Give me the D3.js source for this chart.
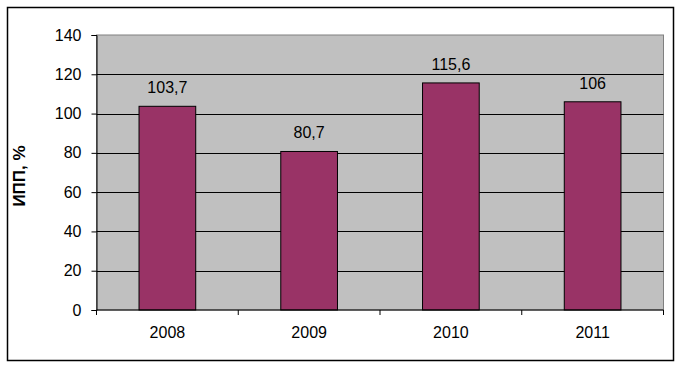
<!DOCTYPE html>
<html><head><meta charset="utf-8">
<script src="https://cdn.jsdelivr.net/npm/d3@7"></script>
<style>body{margin:0;background:#fff}svg{display:block}text{font-family:"Liberation Sans",Arial,sans-serif}</style>
</head><body><svg id="c" width="682" height="368"></svg>
<script>
const categories = ["2008","2009","2010","2011"];
const values = [103.7, 80.7, 115.6, 106];
const valueLabels = ["103,7","80,7","115,6","106"];
const yTicks = [0,20,40,60,80,100,120,140];
const yTitle = "ИПП, %";

const svg = d3.select("#c");
svg.append("rect").attr("x",7.5).attr("y",7.5).attr("width",666).attr("height",353)
  .attr("fill","#fff").attr("stroke","#000").attr("stroke-width",1.5);

const L=96.5, R=663.5, T=35, B=310;
const x = d3.scaleBand().domain(categories).range([L,R]).paddingInner(0.6).paddingOuter(0.3);
const xb = d3.scaleBand().domain(categories).range([L,R]);
const y = d3.scaleLinear().domain([0,140]).range([B,T]);

svg.append("rect").attr("x",L).attr("y",T).attr("width",R-L).attr("height",B-T)
  .attr("fill","#c0c0c0").attr("stroke","#808080").attr("stroke-width",1);

svg.append("g").selectAll("line").data(yTicks.filter(d=>d>0 && d<140)).join("line")
  .attr("x1",L).attr("x2",R).attr("y1",d=>Math.round(y(d))+0.5).attr("y2",d=>Math.round(y(d))+0.5)
  .attr("stroke","#000").attr("stroke-width",1);

svg.append("g").selectAll("rect").data(values).join("rect")
  .attr("x",(d,i)=>x(categories[i])).attr("width",x.bandwidth())
  .attr("y",d=>y(d)).attr("height",d=>B-y(d))
  .attr("fill","#993366").attr("stroke","#000").attr("stroke-width",1);

svg.append("g").selectAll("text").data(values).join("text")
  .attr("x",(d,i)=>x(categories[i])+x.bandwidth()/2).attr("y",d=>y(d)-13)
  .attr("text-anchor","middle").attr("font-size",16).attr("fill","#000")
  .text((d,i)=>valueLabels[i]);

const yAxis = d3.axisLeft(y).tickValues(yTicks).tickSize(5).tickPadding(10).tickFormat(d3.format("d"));
const gy = svg.append("g").attr("transform",`translate(${L},0)`).call(yAxis);
gy.select(".domain").attr("stroke","#000");
gy.selectAll("text").attr("font-size",16).attr("fill","#000").style("font-family",'"Liberation Sans",Arial,sans-serif');

const gx = svg.append("g").attr("transform",`translate(0,${B})`);
gx.append("line").attr("x1",L).attr("x2",R).attr("stroke","#000");
const bounds = categories.map(c=>xb(c)).concat([R]);
gx.selectAll("line.t").data(bounds).join("line").attr("class","t")
  .attr("x1",d=>d).attr("x2",d=>d).attr("y1",0).attr("y2",5).attr("stroke","#000");
gx.selectAll("text").data(categories).join("text")
  .attr("x",d=>xb(d)+xb.bandwidth()/2).attr("y",28).attr("text-anchor","middle")
  .attr("font-size",16).attr("fill","#000").text(d=>d);

svg.append("text").attr("transform","translate(25,176) rotate(-90)")
  .attr("text-anchor","middle").attr("font-size",17).attr("font-weight","bold").text(yTitle);
</script></body></html>
